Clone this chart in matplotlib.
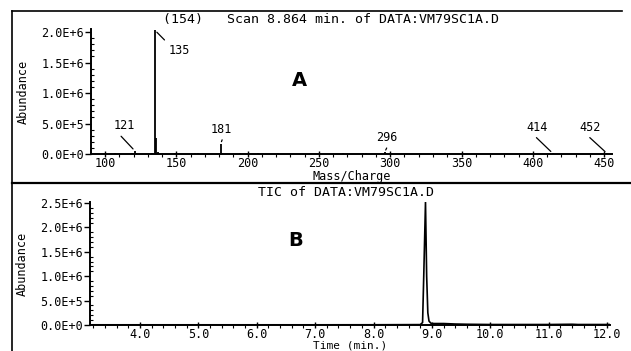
import matplotlib
matplotlib.use("Agg")
import matplotlib.pyplot as plt
from matplotlib.lines import Line2D
from matplotlib.ticker import MultipleLocator, FuncFormatter

# mass spectrum (scan 8.864 min)
masses = [107, 115, 119, 121, 122, 133, 135, 136, 137, 149, 152, 163, 165, 181, 182,
          195, 207, 221, 253, 267, 281, 283, 296, 297, 327, 341, 355, 377, 414, 429, 452]
abund = [0.01e6, 0.008e6, 0.015e6, 0.05e6, 0.02e6, 0.02e6, 2.03e6, 0.26e6, 0.03e6,
         0.015e6, 0.01e6, 0.012e6, 0.01e6, 0.16e6, 0.02e6, 0.012e6, 0.01e6, 0.01e6,
         0.008e6, 0.01e6, 0.012e6, 0.01e6, 0.025e6, 0.01e6, 0.008e6, 0.01e6, 0.008e6,
         0.008e6, 0.01e6, 0.006e6, 0.01e6]
labelled = [121, 135, 181, 296, 414, 452]
# text offset (pixels) and where the leader leaves the text box
label_offsets = {121: (-11, 25), 135: (24, -20), 181: (1, 15), 296: (2, 15),
                 414: (-16, 26), 452: (-17, 26)}
label_relpos = {121: (0.2, 0), 135: (0.0, 1.0), 181: (0.6, 0), 296: (0.6, 0),
                414: (0.3, 0), 452: (0.3, 0)}

# total ion chromatogram
tic_time = [3.14, 4.0, 5.0, 6.0, 7.0, 8.0, 8.80, 8.84, 8.86, 8.89, 8.91, 8.93, 8.95,
            8.98, 9.0, 9.2, 9.4, 9.6, 10.0, 11.0, 11.4, 11.5, 12.05]
tic_abund = [4e3, 4e3, 4e3, 4e3, 4e3, 5e3, 8e3, 0.05e6, 1.0e6, 2.52e6, 1.0e6, 0.25e6,
             0.08e6, 0.04e6, 0.03e6, 0.03e6, 0.02e6, 0.015e6, 0.01e6, 0.01e6, 0.015e6,
             0.01e6, 0.01e6]

W, H = 631, 351
mono = "DejaVu Sans Mono"
plt.rcParams['font.family'] = mono

fig = plt.figure(figsize=(W / 100, H / 100), dpi=100)


def px_axes(x0, y0, x1, y1):
    # pixel box (top-left origin) -> figure fraction
    return fig.add_axes([x0 / W, 1 - y1 / H, (x1 - x0) / W, (y1 - y0) / H])


def sci(v, pos):
    return f"{v:.1E}".replace("E+0", "E+").replace("E-0", "E-")


def style(ax):
    for s in ("top", "right"):
        ax.spines[s].set_visible(False)
    for s in ("left", "bottom"):
        ax.spines[s].set_linewidth(1.4)
    ax.yaxis.set_major_formatter(FuncFormatter(sci))
    ax.tick_params(axis="both", which="major", labelsize=8.5, width=1.0, length=4)
    ax.tick_params(axis="x", which="major", direction="inout", length=5, pad=0)
    ax.tick_params(axis="y", which="major", pad=1)
    ax.tick_params(axis="y", which="minor", direction="in", length=2, width=0.8)
    ax.tick_params(axis="x", which="minor", direction="out", length=2, width=0.8)


# panel A
ax1 = px_axes(91, 29, 612, 154)
ax1.vlines(masses, 0, abund, color="black", lw=1.3)
ax1.set_xlim(90.2, 455.5)
ax1.set_ylim(0, 2.05e6)
ax1.xaxis.set_major_locator(MultipleLocator(50))
ax1.xaxis.set_minor_locator(MultipleLocator(10))
ax1.yaxis.set_major_locator(MultipleLocator(0.5e6))
ax1.yaxis.set_minor_locator(MultipleLocator(0.1e6))
style(ax1)
ax1.set_ylabel("Abundance", fontsize=8.5, labelpad=8)
ax1.set_xlabel("Mass/Charge", fontsize=8.5, labelpad=0)
for m, a in zip(masses, abund):
    if m in labelled:
        dx, dy = label_offsets[m]
        ax1.annotate(str(m), xy=(m, a), xytext=(dx, dy), textcoords="offset pixels",
                     ha="center", va="center", fontsize=8.5,
                     arrowprops=dict(arrowstyle="-", lw=0.9, color="black",
                                     relpos=label_relpos[m], shrinkA=1, shrinkB=2))
ax1.text(0.40, 0.59, "A", transform=ax1.transAxes, fontsize=14, fontweight="bold",
         family="DejaVu Sans", ha="center", va="center")
fig.text(163 / W, 1 - 20 / H, "(154)   Scan 8.864 min. of DATA:VM79SC1A.D",
         fontsize=9.5, ha="left", va="center")

# panel B
ax2 = px_axes(90, 202, 610, 325)
ax2.plot(tic_time, tic_abund, color="black", lw=1.2)
ax2.set_xlim(3.144, 12.05)
ax2.set_ylim(0, 2.52e6)
ax2.xaxis.set_major_locator(MultipleLocator(1.0))
ax2.xaxis.set_minor_locator(MultipleLocator(0.2))
ax2.xaxis.set_major_formatter(FuncFormatter(lambda v, p: f"{v:.1f}"))
ax2.yaxis.set_major_locator(MultipleLocator(0.5e6))
ax2.yaxis.set_minor_locator(MultipleLocator(0.1e6))
style(ax2)
ax2.set_ylabel("Abundance", fontsize=8.5, labelpad=8)
ax2.set_xlabel("Time (min.)", fontsize=8, labelpad=-1)
ax2.text(0.395, 0.69, "B", transform=ax2.transAxes, fontsize=14, fontweight="bold",
         family="DejaVu Sans", ha="center", va="center")
fig.text(346 / W, 1 - 193 / H, "TIC of DATA:VM79SC1A.D", fontsize=9.5,
         ha="center", va="center")

# page frame lines
fig.add_artist(Line2D([12 / W, 622 / W], [1 - 11 / H, 1 - 11 / H], color="black", lw=1.2))
fig.add_artist(Line2D([12 / W, 12 / W], [1 - 11 / H, 0], color="black", lw=1.2))
fig.add_artist(Line2D([12 / W, 1], [1 - 183 / H, 1 - 183 / H], color="black", lw=1.6))

fig.savefig("out.png", dpi=100, facecolor="white")
